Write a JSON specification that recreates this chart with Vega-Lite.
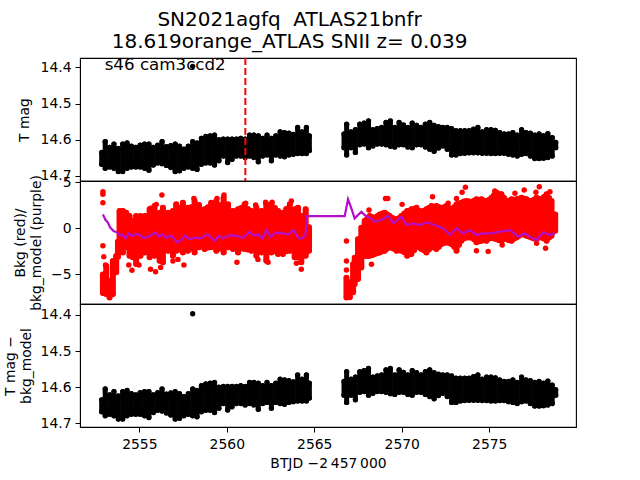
{
"$schema":"https://vega.github.io/schema/vega-lite/v6.json",
"padding":{"left":2,"top":10,"right":60,"bottom":5},
"title":{"text":["SN2021agfq \u00a0ATLAS21bnfr","18.619orange_ATLAS SNII z= 0.039"],"font":"DejaVu Sans","fontSize":20,"fontWeight":"normal","color":"black","anchor":"middle","lineHeight":22,"offset":4},
"config":{"view":{"stroke":"black","strokeWidth":1.1},"font":"DejaVu Sans","axis":{"grid":false,"labelFont":"DejaVu Sans","titleFont":"DejaVu Sans","labelFontSize":13.9,"titleFontSize":13.9,"titleFontWeight":"normal","labelColor":"black","titleColor":"black","domainColor":"black","tickColor":"black","tickSize":5,"labelPadding":4}},
"spacing":0,
"bounds":"flush",
"datasets":{
"mag":[
{"t":2552.85,"hi":14.635,"lo":14.668},{"t":2553.05,"hi":14.605,"lo":14.679},{"t":2553.3,"hi":14.621,"lo":14.675},{"t":2553.55,"hi":14.612,"lo":14.679},{"t":2553.8,"hi":14.624,"lo":14.688},{"t":2554.05,"hi":14.612,"lo":14.688},{"t":2554.3,"hi":14.609,"lo":14.679},{"t":2554.55,"hi":14.618,"lo":14.675},{"t":2554.8,"hi":14.621,"lo":14.675},{"t":2555.05,"hi":14.615,"lo":14.675},{"t":2555.3,"hi":14.612,"lo":14.679},{"t":2555.55,"hi":14.612,"lo":14.684},{"t":2555.8,"hi":14.621,"lo":14.67},{"t":2556.05,"hi":14.615,"lo":14.664},{"t":2556.3,"hi":14.605,"lo":14.666},{"t":2556.55,"hi":14.619,"lo":14.671},{"t":2556.8,"hi":14.616,"lo":14.677},{"t":2557.05,"hi":14.612,"lo":14.688},{"t":2557.3,"hi":14.618,"lo":14.686},{"t":2557.55,"hi":14.626,"lo":14.679},{"t":2557.8,"hi":14.618,"lo":14.675},{"t":2558.05,"hi":14.605,"lo":14.679},{"t":2558.3,"hi":14.609,"lo":14.682},{"t":2558.55,"hi":14.596,"lo":14.668},{"t":2558.8,"hi":14.591,"lo":14.664},{"t":2559.05,"hi":14.589,"lo":14.664},{"t":2559.3,"hi":14.587,"lo":14.67},{"t":2559.55,"hi":14.6,"lo":14.658},{"t":2559.8,"hi":14.598,"lo":14.645},{"t":2560.05,"hi":14.598,"lo":14.663},{"t":2560.3,"hi":14.598,"lo":14.654},{"t":2560.55,"hi":14.598,"lo":14.645},{"t":2560.8,"hi":14.596,"lo":14.645},{"t":2561.05,"hi":14.598,"lo":14.649},{"t":2561.3,"hi":14.587,"lo":14.645},{"t":2561.55,"hi":14.587,"lo":14.649},{"t":2561.8,"hi":14.589,"lo":14.661},{"t":2562.05,"hi":14.596,"lo":14.645},{"t":2562.3,"hi":14.587,"lo":14.642},{"t":2562.55,"hi":14.596,"lo":14.658},{"t":2562.8,"hi":14.589,"lo":14.642},{"t":2563.05,"hi":14.578,"lo":14.645},{"t":2563.3,"hi":14.58,"lo":14.647},{"t":2563.55,"hi":14.582,"lo":14.642},{"t":2563.8,"hi":14.585,"lo":14.64},{"t":2564.05,"hi":14.566,"lo":14.638},{"t":2564.3,"hi":14.578,"lo":14.638},{"t":2564.55,"hi":14.566,"lo":14.638},{"t":2564.72,"hi":14.589,"lo":14.63},
{"t":2566.7,"hi":14.584,"lo":14.622},{"t":2566.85,"hi":14.557,"lo":14.642},{"t":2567.1,"hi":14.578,"lo":14.622},{"t":2567.35,"hi":14.572,"lo":14.635},{"t":2567.6,"hi":14.557,"lo":14.614},{"t":2567.85,"hi":14.554,"lo":14.612},{"t":2568.1,"hi":14.548,"lo":14.622},{"t":2568.35,"hi":14.572,"lo":14.617},{"t":2568.6,"hi":14.569,"lo":14.612},{"t":2568.85,"hi":14.566,"lo":14.612},{"t":2569.1,"hi":14.552,"lo":14.614},{"t":2569.35,"hi":14.548,"lo":14.618},{"t":2569.6,"hi":14.566,"lo":14.62},{"t":2569.85,"hi":14.552,"lo":14.614},{"t":2570.1,"hi":14.559,"lo":14.614},{"t":2570.35,"hi":14.566,"lo":14.62},{"t":2570.6,"hi":14.554,"lo":14.622},{"t":2570.85,"hi":14.56,"lo":14.614},{"t":2571.1,"hi":14.566,"lo":14.614},{"t":2571.35,"hi":14.557,"lo":14.62},{"t":2571.6,"hi":14.552,"lo":14.626},{"t":2571.85,"hi":14.56,"lo":14.632},{"t":2572.1,"hi":14.564,"lo":14.623},{"t":2572.35,"hi":14.566,"lo":14.617},{"t":2572.6,"hi":14.566,"lo":14.626},{"t":2572.85,"hi":14.569,"lo":14.642},{"t":2573.1,"hi":14.575,"lo":14.642},{"t":2573.35,"hi":14.575,"lo":14.638},{"t":2573.6,"hi":14.575,"lo":14.637},{"t":2573.85,"hi":14.575,"lo":14.636},{"t":2574.1,"hi":14.571,"lo":14.636},{"t":2574.35,"hi":14.566,"lo":14.636},{"t":2574.6,"hi":14.578,"lo":14.637},{"t":2574.85,"hi":14.572,"lo":14.637},{"t":2575.1,"hi":14.572,"lo":14.638},{"t":2575.35,"hi":14.574,"lo":14.638},{"t":2575.6,"hi":14.58,"lo":14.637},{"t":2575.85,"hi":14.584,"lo":14.637},{"t":2576.1,"hi":14.584,"lo":14.64},{"t":2576.35,"hi":14.58,"lo":14.642},{"t":2576.6,"hi":14.587,"lo":14.645},{"t":2576.85,"hi":14.572,"lo":14.64},{"t":2577.1,"hi":14.58,"lo":14.638},{"t":2577.35,"hi":14.582,"lo":14.645},{"t":2577.6,"hi":14.587,"lo":14.652},{"t":2577.85,"hi":14.584,"lo":14.652},{"t":2578.1,"hi":14.589,"lo":14.651},{"t":2578.35,"hi":14.583,"lo":14.649},{"t":2578.6,"hi":14.594,"lo":14.645},{"t":2578.8,"hi":14.607,"lo":14.622}],
"magOut":[{"t":2558.05,"m":14.397}],
"bkg":[
{"t":2552.92,"hi":-5.01,"lo":-7.04},{"t":2553.11,"hi":-4.1,"lo":-7.14},{"t":2553.3,"hi":-5.73,"lo":-7.51},{"t":2553.49,"hi":-3.56,"lo":-7.14},{"t":2553.68,"hi":-3.01,"lo":-4.79},{"t":2553.78,"hi":-1.46,"lo":-3.09},{"t":2553.87,"hi":1.88,"lo":-2.43},{"t":2554.06,"hi":1.88,"lo":-2.62},{"t":2554.25,"hi":1.7,"lo":-2.07},{"t":2554.44,"hi":1.33,"lo":-2.98},{"t":2554.63,"hi":0.79,"lo":-3.16},{"t":2554.82,"hi":1.33,"lo":-3.88},{"t":2555.07,"hi":1.33,"lo":-2.98},{"t":2555.32,"hi":1.33,"lo":-2.62},{"t":2555.59,"hi":2.06,"lo":-3.16},{"t":2555.87,"hi":2.42,"lo":-2.98},{"t":2556.16,"hi":1.7,"lo":-3.52},{"t":2556.35,"hi":2.24,"lo":-3.7},{"t":2556.64,"hi":1.7,"lo":-2.43},{"t":2556.92,"hi":1.88,"lo":-2.98},{"t":2557.11,"hi":2.6,"lo":-2.43},{"t":2557.3,"hi":2.2,"lo":-2.3},{"t":2557.49,"hi":2.78,"lo":-2.62},{"t":2557.78,"hi":2.24,"lo":-2.43},{"t":2557.97,"hi":2.3,"lo":-2.2},{"t":2558.16,"hi":2.96,"lo":-2.62},{"t":2558.41,"hi":2.53,"lo":-2.07},{"t":2558.73,"hi":2.06,"lo":-2.25},{"t":2558.92,"hi":2.3,"lo":-2.1},{"t":2559.11,"hi":2.78,"lo":-2.07},{"t":2559.4,"hi":2.96,"lo":-2.43},{"t":2559.6,"hi":2.5,"lo":-2.2},{"t":2559.82,"hi":3.33,"lo":-2.62},{"t":2560.07,"hi":2.6,"lo":-2.07},{"t":2560.35,"hi":1.88,"lo":-2.25},{"t":2560.64,"hi":2.06,"lo":-2.62},{"t":2560.83,"hi":2.2,"lo":-2.2},{"t":2561.02,"hi":2.6,"lo":-2.25},{"t":2561.2,"hi":2.1,"lo":-2.3},{"t":2561.4,"hi":1.88,"lo":-2.43},{"t":2561.69,"hi":2.24,"lo":-2.98},{"t":2561.98,"hi":1.88,"lo":-2.62},{"t":2562.26,"hi":2.6,"lo":-3.52},{"t":2562.55,"hi":2.6,"lo":-2.62},{"t":2562.75,"hi":2.2,"lo":-2.5},{"t":2562.93,"hi":1.88,"lo":-2.8},{"t":2563.21,"hi":1.7,"lo":-2.8},{"t":2563.4,"hi":2.1,"lo":-2.5},{"t":2563.6,"hi":2.6,"lo":-2.43},{"t":2563.88,"hi":2.06,"lo":-3.16},{"t":2564.07,"hi":2.24,"lo":-3.16},{"t":2564.26,"hi":1.33,"lo":-3.7},{"t":2564.51,"hi":2.06,"lo":-2.98},{"t":2564.7,"hi":0.1,"lo":-2.43},
{"t":2566.84,"hi":-5.37,"lo":-7.51},{"t":2567.03,"hi":-5.9,"lo":-7.5},{"t":2567.22,"hi":-3.92,"lo":-6.96},{"t":2567.31,"hi":-3.2,"lo":-6.06},{"t":2567.5,"hi":-1.2,"lo":-5.51},{"t":2567.69,"hi":0.06,"lo":-4.25},{"t":2567.88,"hi":0.79,"lo":-2.98},{"t":2568.02,"hi":1.0,"lo":-3.0},{"t":2568.17,"hi":1.33,"lo":-2.98},{"t":2568.32,"hi":1.2,"lo":-2.9},{"t":2568.46,"hi":1.15,"lo":-2.8},{"t":2568.6,"hi":1.3,"lo":-2.7},{"t":2568.74,"hi":1.51,"lo":-2.62},{"t":2568.89,"hi":1.6,"lo":-2.5},{"t":2569.03,"hi":1.7,"lo":-2.43},{"t":2569.17,"hi":1.5,"lo":-2.2},{"t":2569.31,"hi":1.33,"lo":-2.07},{"t":2569.5,"hi":1.1,"lo":-2.2},{"t":2569.7,"hi":0.97,"lo":-2.43},{"t":2569.84,"hi":1.1,"lo":-2.4},{"t":2569.98,"hi":1.33,"lo":-2.43},{"t":2570.15,"hi":1.6,"lo":-2.6},{"t":2570.31,"hi":1.88,"lo":-2.98},{"t":2570.55,"hi":2.06,"lo":-2.8},{"t":2570.7,"hi":2.1,"lo":-2.4},{"t":2570.84,"hi":2.24,"lo":-2.07},{"t":2571.0,"hi":1.9,"lo":-2.1},{"t":2571.13,"hi":1.7,"lo":-2.25},{"t":2571.27,"hi":1.9,"lo":-2.4},{"t":2571.41,"hi":2.06,"lo":-2.62},{"t":2571.55,"hi":2.2,"lo":-2.3},{"t":2571.7,"hi":2.42,"lo":-2.07},{"t":2571.84,"hi":2.3,"lo":-2.1},{"t":2571.98,"hi":2.42,"lo":-2.25},{"t":2572.12,"hi":2.3,"lo":-2.0},{"t":2572.27,"hi":2.24,"lo":-1.71},{"t":2572.42,"hi":2.3,"lo":-1.6},{"t":2572.56,"hi":2.42,"lo":-1.53},{"t":2572.7,"hi":2.2,"lo":-1.6},{"t":2572.84,"hi":2.06,"lo":-1.71},{"t":2573.0,"hi":2.3,"lo":-2.0},{"t":2573.13,"hi":2.6,"lo":-2.43},{"t":2573.27,"hi":2.7,"lo":-1.8},{"t":2573.41,"hi":2.78,"lo":-1.35},{"t":2573.55,"hi":2.9,"lo":-1.1},{"t":2573.7,"hi":2.96,"lo":-0.99},{"t":2573.85,"hi":2.9,"lo":-1.0},{"t":2573.99,"hi":2.78,"lo":-0.99},{"t":2574.13,"hi":3.0,"lo":-1.2},{"t":2574.27,"hi":3.15,"lo":-1.53},{"t":2574.42,"hi":3.1,"lo":-1.4},{"t":2574.56,"hi":3.15,"lo":-1.35},{"t":2574.7,"hi":3.0,"lo":-1.3},{"t":2574.84,"hi":2.96,"lo":-1.35},{"t":2575.0,"hi":3.1,"lo":-1.1},{"t":2575.13,"hi":3.33,"lo":-0.99},{"t":2575.27,"hi":3.6,"lo":-1.1},{"t":2575.42,"hi":3.87,"lo":-1.17},{"t":2575.56,"hi":3.7,"lo":-1.3},{"t":2575.7,"hi":3.69,"lo":-1.35},{"t":2575.85,"hi":3.3,"lo":-1.2},{"t":2575.99,"hi":2.96,"lo":-1.17},{"t":2576.13,"hi":3.0,"lo":-1.3},{"t":2576.28,"hi":3.15,"lo":-1.35},{"t":2576.42,"hi":3.1,"lo":-1.1},{"t":2576.56,"hi":3.15,"lo":-0.99},{"t":2576.7,"hi":3.2,"lo":-0.8},{"t":2576.85,"hi":3.33,"lo":-0.62},{"t":2577.0,"hi":3.2,"lo":-0.7},{"t":2577.13,"hi":3.15,"lo":-0.8},{"t":2577.27,"hi":3.0,"lo":-0.9},{"t":2577.42,"hi":2.96,"lo":-0.99},{"t":2577.56,"hi":3.1,"lo":-1.1},{"t":2577.7,"hi":3.33,"lo":-1.17},{"t":2577.85,"hi":3.2,"lo":-1.0},{"t":2577.99,"hi":3.15,"lo":-0.99},{"t":2578.13,"hi":3.4,"lo":-1.1},{"t":2578.28,"hi":3.69,"lo":-1.35},{"t":2578.42,"hi":3.3,"lo":-1.0},{"t":2578.56,"hi":2.96,"lo":-0.8},{"t":2578.77,"hi":1.51,"lo":-0.26}],
"bkgOut":[
{"t":2552.92,"v":3.98},{"t":2552.92,"v":3.69},{"t":2552.92,"v":2.78},{"t":2552.92,"v":-1.89},{"t":2552.97,"v":-3.09},{"t":2553.07,"v":-3.99},{"t":2556.29,"v":3.62},{"t":2555.64,"v":2.17},{"t":2555.97,"v":2.6},{"t":2555.64,"v":-4.46},{"t":2555.93,"v":-4.72},{"t":2554.98,"v":-3.99},{"t":2554.58,"v":-4.57},{"t":2554.4,"v":-3.99},{"t":2557.55,"v":-3.99},{"t":2556.92,"v":-3.56},{"t":2557.21,"v":-3.38},{"t":2556.22,"v":-4.25},{"t":2558.12,"v":3.25},{"t":2559.84,"v":3.62},{"t":2559.44,"v":3.25},{"t":2560.58,"v":-3.7},{"t":2564.26,"v":-4.46},{"t":2563.98,"v":-3.81},{"t":2562.36,"v":-3.7},{"t":2561.78,"v":-3.38},{"t":2563.69,"v":2.96},{"t":2562.22,"v":2.82},{"t":2562.59,"v":2.82},{"t":2561.08,"v":2.71},{"t":2561.65,"v":2.53},
{"t":2566.84,"v":-1.38},{"t":2566.84,"v":-3.56},{"t":2566.84,"v":-4.54},{"t":2569.2,"v":3.25},{"t":2569.07,"v":3.25},{"t":2570.02,"v":2.6},{"t":2571.76,"v":3.43},{"t":2568.13,"v":1.99},{"t":2568.27,"v":-3.92},{"t":2573.64,"v":4.45},{"t":2573.45,"v":3.91},{"t":2573.13,"v":3.25},{"t":2577.86,"v":4.52},{"t":2577.0,"v":4.16},{"t":2577.67,"v":3.91},{"t":2576.47,"v":3.8},{"t":2574.27,"v":-2.43},{"t":2574.94,"v":-2.51},{"t":2578.22,"v":-2.18},{"t":2577.71,"v":-1.64},{"t":2575.74,"v":-1.82},{"t":2572.65,"v":2.71},{"t":2575.32,"v":4.05},{"t":2578.47,"v":3.98}],
"model":[
{"t":2552.92,"v":1.51},{"t":2553.07,"v":0.9},{"t":2553.2,"v":0.65},{"t":2553.34,"v":0.07},{"t":2553.53,"v":-0.3},{"t":2553.72,"v":-0.44},{"t":2553.87,"v":-0.73},{"t":2554.02,"v":-0.66},{"t":2554.21,"v":-1.09},{"t":2554.4,"v":-0.55},{"t":2554.59,"v":-0.84},{"t":2554.82,"v":-0.62},{"t":2555.05,"v":-0.73},{"t":2555.24,"v":-1.09},{"t":2555.49,"v":-0.95},{"t":2555.68,"v":-0.73},{"t":2555.93,"v":-0.44},{"t":2556.12,"v":-0.91},{"t":2556.31,"v":-0.66},{"t":2556.54,"v":-1.02},{"t":2556.83,"v":-0.8},{"t":2557.15,"v":-1.53},{"t":2557.4,"v":-1.28},{"t":2557.59,"v":-0.8},{"t":2557.88,"v":-1.17},{"t":2558.22,"v":-1.02},{"t":2558.54,"v":-1.09},{"t":2558.87,"v":-0.66},{"t":2559.06,"v":-0.91},{"t":2559.31,"v":-1.38},{"t":2559.55,"v":-0.84},{"t":2559.78,"v":-1.09},{"t":2560.13,"v":-0.77},{"t":2560.54,"v":-0.8},{"t":2560.93,"v":-1.09},{"t":2561.27,"v":-0.37},{"t":2561.54,"v":-0.8},{"t":2561.78,"v":-0.66},{"t":2562.03,"v":-1.09},{"t":2562.26,"v":-0.19},{"t":2562.51,"v":-0.91},{"t":2562.83,"v":-0.44},{"t":2563.21,"v":-0.55},{"t":2563.5,"v":-0.66},{"t":2563.82,"v":-0.19},{"t":2564.07,"v":-1.02},{"t":2564.26,"v":-1.17},{"t":2564.49,"v":-0.73},{"t":2564.59,"v":1.33},
{"t":2566.74,"v":1.33},{"t":2566.93,"v":3.18},{"t":2567.12,"v":2.17},{"t":2567.31,"v":1.08},{"t":2567.5,"v":1.44},{"t":2567.69,"v":1.8},{"t":2567.88,"v":1.44},{"t":2568.17,"v":1.15},{"t":2568.46,"v":0.72},{"t":2568.84,"v":0.9},{"t":2569.22,"v":1.37},{"t":2569.54,"v":0.54},{"t":2569.98,"v":1.26},{"t":2570.27,"v":0.36},{"t":2570.65,"v":0.54},{"t":2571.03,"v":0.36},{"t":2571.41,"v":0.65},{"t":2571.89,"v":0.36},{"t":2572.37,"v":0},{"t":2572.75,"v":-0.73},{"t":2573.13,"v":0},{"t":2573.51,"v":-0.55},{"t":2573.89,"v":-0.19},{"t":2574.27,"v":-0.73},{"t":2574.65,"v":-0.55},{"t":2575.13,"v":-0.55},{"t":2575.61,"v":-0.37},{"t":2576.18,"v":-0.19},{"t":2576.66,"v":-0.91},{"t":2577.04,"v":-0.55},{"t":2577.32,"v":-0.91},{"t":2577.7,"v":-1.28},{"t":2578.09,"v":-0.44},{"t":2578.47,"v":-0.73},{"t":2578.75,"v":-0.55}],
"sn":[{"t":2561.06}],
"note":[{"t":2553.02,"m":14.407,"label":"s46 cam3ccd2"}]
},
"vconcat":[
{"width":496,"height":123,
"encoding":{"x":{"field":"t","type":"quantitative","scale":{"domain":[2551.61,2579.96],"nice":false,"zero":false},"axis":null}},
"layer":[
{"data":{"name":"mag"},"mark":{"type":"rule","color":"black","strokeWidth":5,"strokeCap":"round"},"encoding":{"y":{"field":"hi","type":"quantitative","scale":{"domain":[14.714,14.374],"nice":false,"zero":false},"axis":{"values":[14.4,14.5,14.6,14.7],"format":".1f","title":"T mag","titlePadding":9}},"y2":{"field":"lo"}}},
{"data":{"name":"mag"},"mark":{"type":"point","filled":true,"color":"black","size":28,"opacity":1},"encoding":{"y":{"field":"hi","type":"quantitative"}}},
{"data":{"name":"mag"},"mark":{"type":"point","filled":true,"color":"black","size":28,"opacity":1},"encoding":{"y":{"field":"lo","type":"quantitative"}}},
{"data":{"name":"magOut"},"mark":{"type":"point","filled":true,"color":"black","size":28,"opacity":1},"encoding":{"y":{"field":"m","type":"quantitative"}}},
{"data":{"name":"sn"},"mark":{"type":"rule","color":"#ff0000","strokeWidth":2,"strokeDash":[7,3]},"encoding":{}},
{"data":{"name":"note"},"mark":{"type":"text","align":"left","baseline":"alphabetic","fontSize":16.7,"font":"DejaVu Sans","color":"black"},"encoding":{"y":{"field":"m","type":"quantitative"},"text":{"field":"label"}}}
]},
{"width":496,"height":123,
"encoding":{"x":{"field":"t","type":"quantitative","scale":{"domain":[2551.61,2579.96],"nice":false,"zero":false},"axis":null}},
"layer":[
{"data":{"name":"bkg"},"mark":{"type":"rule","color":"#ff0000","strokeWidth":6,"strokeCap":"round"},"encoding":{"y":{"field":"hi","type":"quantitative","scale":{"domain":[-8.23,5.14],"nice":false,"zero":false},"axis":{"values":[-5,0,5],"format":"d","title":["Bkg (red)/","bkg_model (purple)"],"titlePadding":7}},"y2":{"field":"lo"}}},
{"data":{"name":"bkg"},"mark":{"type":"point","filled":true,"color":"#ff0000","size":30,"opacity":1},"encoding":{"y":{"field":"hi","type":"quantitative"}}},
{"data":{"name":"bkg"},"mark":{"type":"point","filled":true,"color":"#ff0000","size":30,"opacity":1},"encoding":{"y":{"field":"lo","type":"quantitative"}}},
{"data":{"name":"bkgOut"},"mark":{"type":"point","filled":true,"color":"#ff0000","size":30,"opacity":1},"encoding":{"y":{"field":"v","type":"quantitative"}}},
{"data":{"name":"model"},"mark":{"type":"line","color":"#b30fc9","strokeWidth":2.2},"encoding":{"y":{"field":"v","type":"quantitative"}}}
]},
{"width":496,"height":123,
"encoding":{"x":{"field":"t","type":"quantitative","scale":{"domain":[2551.61,2579.96],"nice":false,"zero":false},"axis":{"values":[2555,2560,2565,2570,2575],"format":"d","title":"BTJD \u22122\u2009457\u2009000","labelPadding":5,"titlePadding":6}}},
"layer":[
{"data":{"name":"mag"},"mark":{"type":"rule","color":"black","strokeWidth":5,"strokeCap":"round"},"encoding":{"y":{"field":"hi","type":"quantitative","scale":{"domain":[14.71,14.37],"nice":false,"zero":false},"axis":{"values":[14.4,14.5,14.6,14.7],"format":".1f","title":["T mag \u2212","bkg_model"],"titlePadding":7}},"y2":{"field":"lo"}}},
{"data":{"name":"mag"},"mark":{"type":"point","filled":true,"color":"black","size":28,"opacity":1},"encoding":{"y":{"field":"hi","type":"quantitative"}}},
{"data":{"name":"mag"},"mark":{"type":"point","filled":true,"color":"black","size":28,"opacity":1},"encoding":{"y":{"field":"lo","type":"quantitative"}}},
{"data":{"name":"magOut"},"mark":{"type":"point","filled":true,"color":"black","size":28,"opacity":1},"encoding":{"y":{"field":"m","type":"quantitative"}}}
]}
]
}
